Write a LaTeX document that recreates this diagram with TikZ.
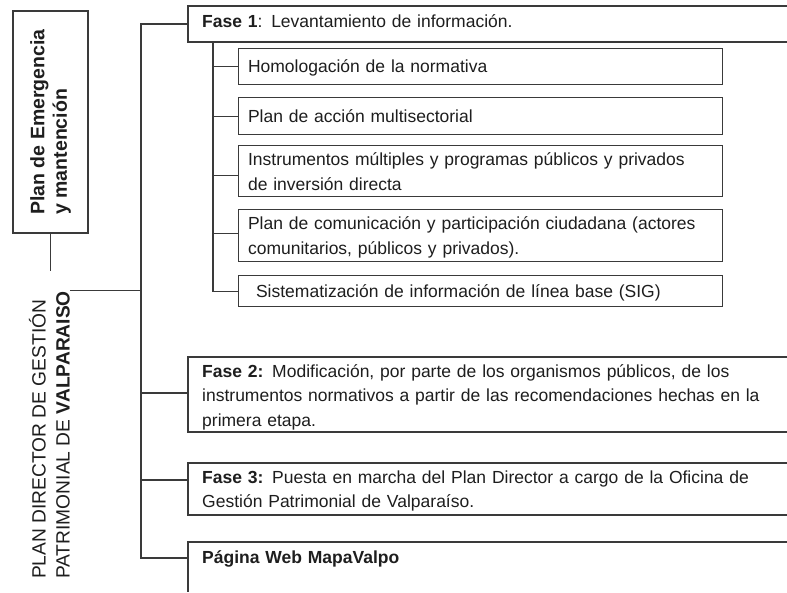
\documentclass[tikz,border=0pt]{standalone}
\usepackage{fontspec}
\setmainfont{Liberation Sans}
\definecolor{linec}{HTML}{3A3A3A}
\definecolor{txtc}{HTML}{1E1E1E}
\newcommand\sbx[1]{\rule{0pt}{16pt}#1\rule[-3pt]{0pt}{3pt}}
\tikzset{
  conn/.style={draw=linec, line width=1.1pt},
  subbox/.style={draw=linec, line width=1.1pt, anchor=north west, inner xsep=9.5pt, inner ysep=0pt,
    text width=465pt, align=left, text=txtc, font=\fontsize{17.5}{25}\selectfont},
  fasetext/.style={anchor=north west, inner sep=0pt, text width=580pt, align=left, text=txtc,
    font=\fontsize{17.5}{24.5}\selectfont},
}
\begin{document}
\begin{tikzpicture}[x=1pt,y=-1pt]
\useasboundingbox (0,0) rectangle (787,592);
\fill[white] (0,0) rectangle (787,592);

% left titles
\node[draw=linec, line width=1.1pt, rotate=90, minimum width=222pt, minimum height=75pt, inner sep=0pt,
      align=left, text=txtc, font=\fontsize{19.5}{22.5}\selectfont\bfseries] (pe) at (50.5,122)
      {Plan de Emergencia\\y mantención};
\coordinate (peend) at (50.5,271);
\draw[conn] (pe.west) -- (peend);

\node[rotate=90, anchor=south west, inner sep=0pt, align=left, text=txtc,
      font=\fontsize{19.2}{24}\selectfont] (root) at (70,579)
      {PLAN DIRECTOR DE GESTIÓN\\PATRIMONIAL DE \textbf{VALPARAISO}};

% trunk
\coordinate (ttop) at (141,24);
\coordinate (tbot) at (141,558);
\coordinate (f1w) at (188,24);
\coordinate (f2w) at (188,393);
\coordinate (f3w) at (188,480);
\coordinate (webw) at (188,558);
\draw[conn] (root.south east) -- (root.south east -| ttop);
\draw[conn] (f1w) -- (ttop) -- (tbot) -- (webw);
\draw[conn] (ttop |- f2w) -- (f2w);
\draw[conn] (ttop |- f3w) -- (f3w);

% Fase boxes (open to the right)
\draw[conn] (787,6) -| (188,42) -- (787,42);
\draw[conn] (787,357) -| (188,432) -- (787,432);
\draw[conn] (787,463) -| (188,515) -- (787,515);
\draw[conn] (787,542) -- (188,542) -- (188,592);

\node[fasetext] (f1) at (202,11) {\sbx{\textbf{Fase 1}: Levantamiento de información.}};
\node[fasetext] (f2) at (202,361) {\sbx{\textbf{Fase 2:} Modificación, por parte de los organismos públicos, de los\\
instrumentos normativos a partir de las recomendaciones hechas en la\\primera etapa.}};
\node[fasetext] (f3) at (202,467) {\sbx{\textbf{Fase 3:} Puesta en marcha del Plan Director a cargo de la Oficina de\\
Gestión Patrimonial de Valparaíso.}};
\node[fasetext] (web) at (202,547) {\sbx{\textbf{Página Web MapaValpo}}};

% sub boxes
\node[subbox, minimum height=36pt] (s1) at (238,48) {\sbx{Homologación de la normativa}};
\node[subbox, minimum height=37pt] (s2) at (238,97) {\sbx{Plan de acción multisectorial}};
\node[subbox, minimum height=51pt] (s3) at (238,145) {\sbx{Instrumentos múltiples y programas públicos y privados\\de inversión directa}};
\node[subbox, minimum height=52pt] (s4) at (238,209) {\sbx{Plan de comunicación y participación ciudadana (actores\\comunitarios, públicos y privados).}};
\node[subbox, minimum height=31pt] (s5) at (238,275) {\sbx{\hspace*{8pt}Sistematización de información de línea base (SIG)}};

% sub tree
\coordinate (stop) at (213,42);
\draw[conn] (stop) -- (stop |- s5.west) -- (s5.west);
\draw[conn] (stop |- s1.west) -- (s1.west);
\draw[conn] (stop |- s2.west) -- (s2.west);
\draw[conn] ([yshift=-4pt]s3.west -| stop) -- ([yshift=-4pt]s3.west);
\draw[conn] ([yshift=2pt]s4.west -| stop) -- ([yshift=2pt]s4.west);
\end{tikzpicture}
\end{document}
